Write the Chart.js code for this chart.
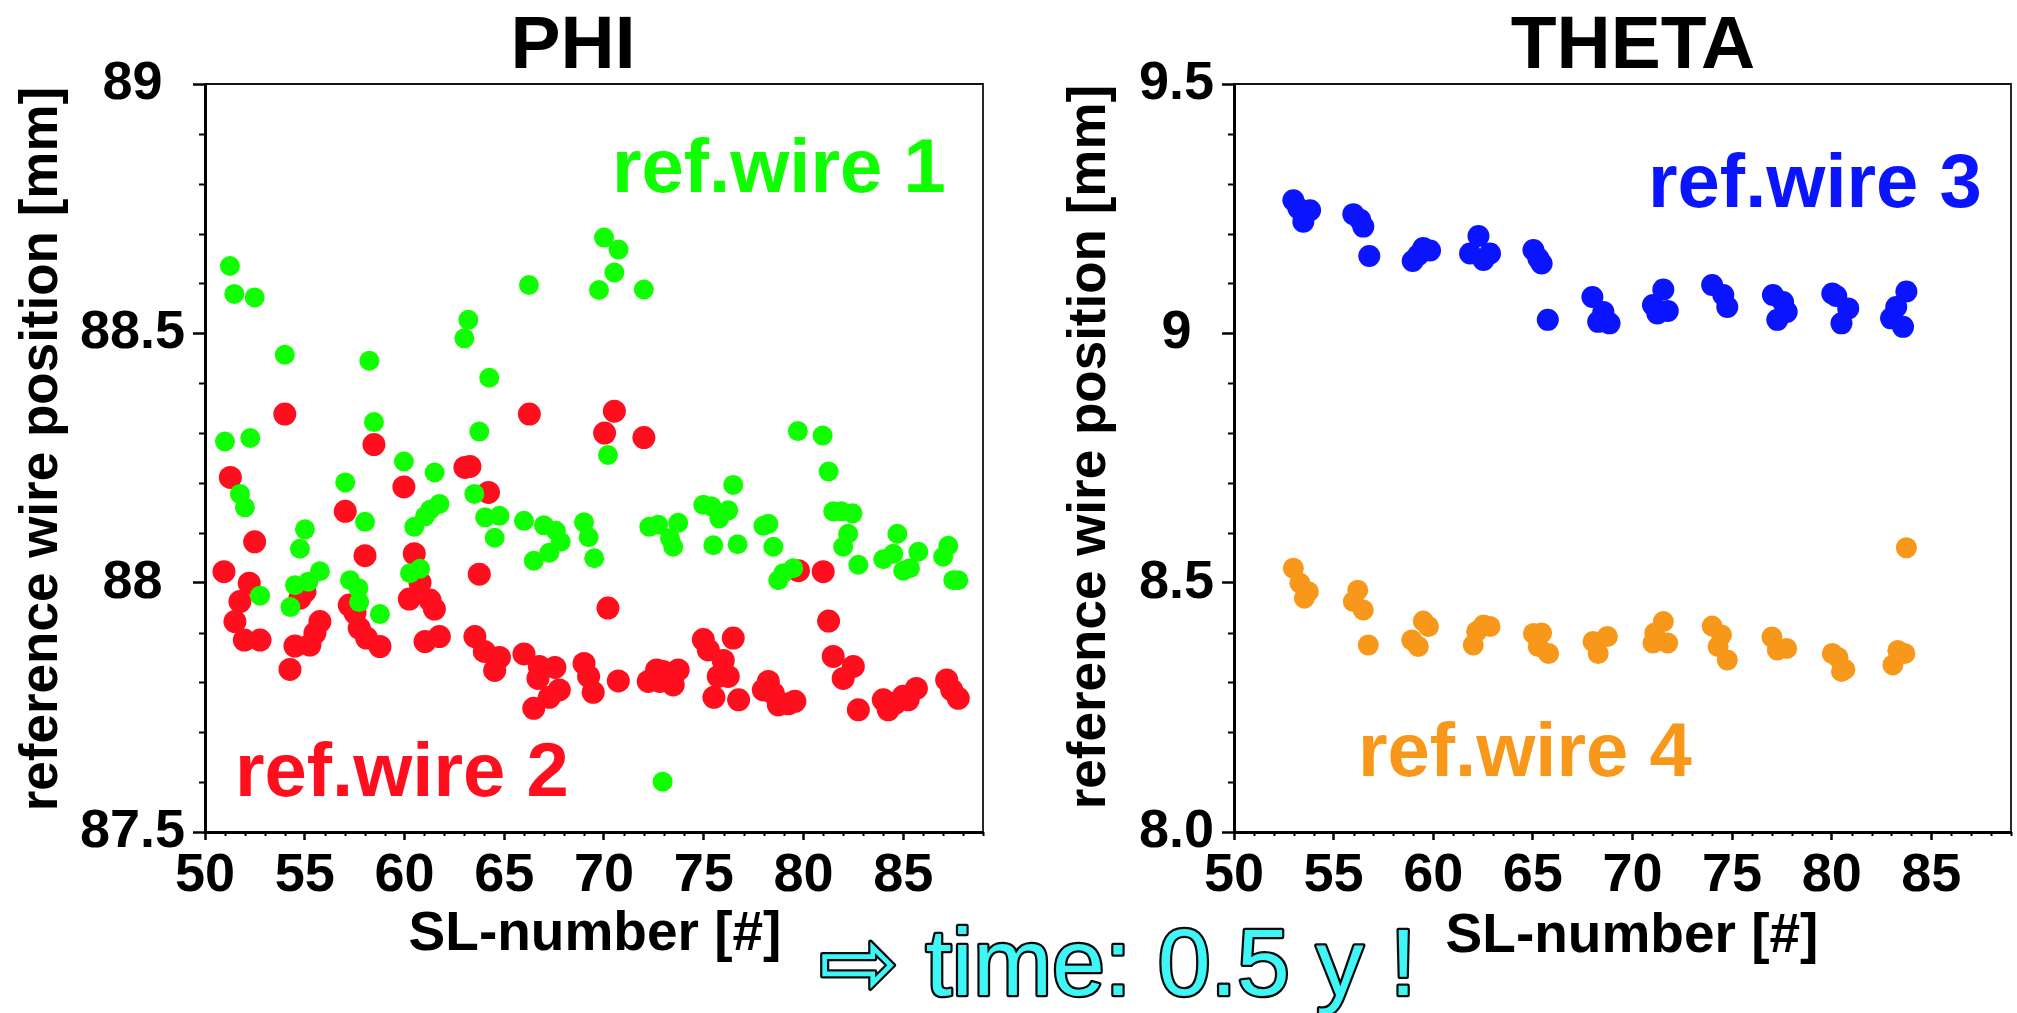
<!DOCTYPE html>
<html><head><meta charset="utf-8">
<script src="https://cdn.jsdelivr.net/npm/chart.js@4.4.1/dist/chart.umd.min.js"></script>
<style>
html,body{margin:0;padding:0;background:#fff;width:2017px;height:1013px;overflow:hidden}
canvas{position:absolute;left:0;top:0}
</style></head><body>
<canvas id="phi" width="2017" height="1013" style="width:2017px;height:1013px"></canvas>
<canvas id="theta" width="2017" height="1013" style="width:2017px;height:1013px"></canvas>
<script>
// ---------------- DATA ----------------
const xTickValues = [50, 55, 60, 65, 70, 75, 80, 85];
const xTickLabels = ['50', '55', '60', '65', '70', '75', '80', '85'];
const phiYTickValues = [87.5, 88, 88.5, 89];
const phiYTickLabels = ['87.5', '88', '88.5', '89'];
const thetaYTickValues = [8.0, 8.5, 9.0, 9.5];
const thetaYTickLabels = ['8.0', '8.5', '9', '9.5'];

const seriesNames = ['ref.wire 1', 'ref.wire 2', 'ref.wire 3', 'ref.wire 4'];
const chartTitles = ['PHI', 'THETA'];
const xAxisTitle = 'SL-number [#]';
const yAxisTitle = 'reference wire position [mm]';
const noteText = '\u21E8 time: 0.5 y !';

// PHI, ref.wire 1 (green)
const wire1X = [51.25,51.47,52.49,54.0,58.24,63.0,63.2,64.25,66.24,70.0,70.73,70.52,69.75,72.0,58.47,63.75,51.0,52.27,79.72,80.96,
  51.75,52.0,59.97,61.51,57.03,58.02,55.01,54.76,63.5,64.04,64.76,64.52,65.99,66.99,67.59,67.83,67.26,66.48,69.0,69.23,
  69.51,70.2,60.49,61.03,61.28,61.75,60.28,60.78,54.51,54.28,55.18,55.76,52.76,57.27,57.69,57.73,58.77,81.26,76.48,74.98,
  75.39,76.23,75.78,75.48,76.7,72.27,72.72,73.72,73.31,73.47,77.99,78.24,78.49,78.74,78.99,79.49,81.49,81.9,82.46,82.24,
  81.99,82.75,84.71,84.0,84.5,85.0,85.34,85.76,87.26,87.0,87.51,87.76,72.94];
const wire1Y = [88.635,88.579,88.572,88.457,88.445,88.49,88.527,88.411,88.597,88.692,88.668,88.622,88.587,88.588,88.322,88.303,88.283,88.29,88.304,88.295,
  88.178,88.151,88.243,88.221,88.201,88.122,88.107,88.068,88.178,88.131,88.134,88.09,88.124,88.115,88.104,88.082,88.06,88.044,88.121,88.091,
  88.049,88.256,88.112,88.133,88.146,88.158,88.019,88.028,87.995,87.951,88.002,88.023,87.974,88.005,87.989,87.961,87.937,88.223,88.196,88.156,
  88.153,88.145,88.129,88.075,88.077,88.112,88.116,88.12,88.089,88.072,88.114,88.118,88.072,88.005,88.019,88.029,88.143,88.143,88.139,88.098,
  88.072,88.036,88.098,88.047,88.058,88.024,88.029,88.062,88.074,88.052,88.005,88.005,87.601];

// PHI, ref.wire 2 (red)
const wire2X = [54.0,66.26,70.52,70.03,72.0,58.47,51.27,59.97,63.03,63.28,64.21,57.03,52.49,58.02,60.49,63.75,50.95,52.22,51.75,51.5,
  51.97,52.76,54.76,55.01,54.26,54.51,55.26,55.51,55.76,57.23,57.52,57.73,58.1,58.77,60.24,60.78,61.28,61.5,61.03,61.75,
  63.53,64.0,64.76,64.52,65.99,66.76,67.54,66.69,67.76,67.26,66.48,69.0,69.23,69.46,70.72,70.2,81.26,80.99,79.75,74.98,
  76.48,75.23,75.98,76.23,75.51,76.75,75.73,72.22,72.64,72.97,73.47,73.72,72.8,78.24,77.99,78.74,79.24,79.57,78.49,81.49,
  82.5,81.99,82.75,84.0,84.25,84.6,85.0,85.25,85.66,87.18,87.76,87.43];
const wire2Y = [88.338,88.338,88.344,88.3,88.291,88.277,88.211,88.192,88.231,88.233,88.181,88.143,88.082,88.054,88.058,88.017,88.022,87.999,87.962,87.922,
  87.885,87.885,87.969,87.982,87.826,87.873,87.875,87.899,87.922,87.955,87.939,87.909,87.889,87.872,87.967,88.0,87.965,87.947,87.882,87.892,
  87.892,87.862,87.85,87.824,87.857,87.832,87.83,87.808,87.785,87.77,87.748,87.838,87.812,87.78,87.803,87.949,87.923,88.022,88.024,87.886,
  87.889,87.865,87.844,87.812,87.77,87.765,87.812,87.802,87.825,87.822,87.795,87.825,87.802,87.802,87.785,87.755,87.757,87.762,87.778,87.852,
  87.832,87.808,87.745,87.765,87.745,87.758,87.772,87.765,87.788,87.805,87.768,87.785];

// THETA, ref.wire 3 (blue)
const wire3X = [52.98,53.23,53.82,53.48,55.99,56.33,56.49,56.79,58.97,59.25,59.5,59.84,62.27,61.85,62.52,62.85,65.03,65.28,65.44,65.75,
  67.99,68.54,68.28,68.85,71.55,71.03,71.77,71.25,74.0,74.56,74.76,77.05,77.56,77.74,77.27,80.03,80.23,80.83,80.49,83.75,
  83.24,82.98,83.58];
const wire3Y = [9.267,9.251,9.247,9.224,9.239,9.228,9.214,9.155,9.145,9.157,9.171,9.166,9.195,9.16,9.147,9.16,9.167,9.15,9.14,9.027,
  9.073,9.043,9.023,9.02,9.088,9.057,9.045,9.04,9.097,9.077,9.053,9.077,9.063,9.043,9.027,9.08,9.075,9.05,9.02,9.084,
  9.053,9.03,9.013];

// THETA, ref.wire 4 (orange)
const wire4X = [52.98,53.31,53.73,53.53,56.21,55.99,56.49,56.74,58.92,59.25,59.5,59.76,62.01,62.18,62.52,62.85,65.03,65.44,65.27,65.79,
  68.02,68.74,68.28,71.55,71.12,71.03,71.77,74.0,74.47,74.3,74.76,77.0,77.74,77.27,80.03,80.32,80.66,80.49,83.32,83.67,
  83.07,83.75];
const wire4Y = [8.529,8.499,8.482,8.469,8.485,8.462,8.445,8.375,8.385,8.372,8.423,8.412,8.375,8.402,8.415,8.412,8.398,8.399,8.372,8.358,
  8.382,8.392,8.358,8.422,8.399,8.379,8.379,8.413,8.395,8.372,8.345,8.391,8.368,8.365,8.358,8.35,8.326,8.322,8.364,8.358,
  8.335,8.57];

// ---------------- STYLE ----------------
const FONT = 'Liberation Sans, Arial, Helvetica, sans-serif';
const C_GREEN = '#10ff00', C_RED = '#ff0e1e', C_BLUE = '#0a14ff', C_ORANGE = '#f7981a';

const toPts = (xs, ys) => xs.map((x, i) => ({x, y: ys[i]}));

const decor = {
  id: 'decor',
  afterDraw(chart, args, o) {
    const ctx = chart.ctx, a = chart.chartArea, xs = chart.scales.x, ys = chart.scales.y;
    ctx.save();
    // frame (top + right)
    ctx.strokeStyle = '#111'; ctx.lineWidth = 1.8;
    ctx.beginPath(); ctx.moveTo(a.left, a.top); ctx.lineTo(a.right, a.top); ctx.lineTo(a.right, a.bottom); ctx.stroke();
    // minor ticks
    ctx.strokeStyle = '#000'; ctx.lineWidth = 2;
    ctx.beginPath();
    for (let k = 0; ; k++) {
      const v = xs.min + k * o.xMinorStep;
      if (v > xs.max + 1e-9) break;
      if (xTickValues.some(t => Math.abs(t - v) < 1e-6)) continue;
      const px = Math.round(xs.getPixelForValue(v)) + 0.5;
      ctx.moveTo(px, a.bottom); ctx.lineTo(px, a.bottom + o.xMinorLen);
    }
    for (let k = 0; ; k++) {
      const v = ys.min + k * o.yMinorStep;
      if (v > ys.max + 1e-9) break;
      if (o.yMajor.some(t => Math.abs(t - v) < 1e-6)) continue;
      const py = Math.round(ys.getPixelForValue(v)) + 0.5;
      ctx.moveTo(a.left, py); ctx.lineTo(a.left - o.yMinorLen, py);
    }
    ctx.stroke();
    // title
    ctx.fillStyle = '#000';
    ctx.font = 'bold 75px ' + FONT;
    ctx.textAlign = 'center'; ctx.textBaseline = 'alphabetic';
    ctx.fillText(o.title, o.titleX, o.titleY);
    // x axis title
    ctx.font = 'bold 55px ' + FONT;
    ctx.fillText(xAxisTitle, o.xTitleX, o.xTitleY);
    // y axis title
    ctx.save();
    ctx.translate(o.yTitleX, o.yTitleY);
    ctx.rotate(-Math.PI / 2);
    ctx.font = 'bold 53px ' + FONT;
    ctx.fillText(yAxisTitle, 0, 0);
    ctx.restore();
    // series labels (anchored in data coordinates)
    ctx.font = 'bold 76px ' + FONT;
    ctx.textAlign = 'left';
    o.labels.forEach(l => {
      ctx.fillStyle = l.color;
      ctx.fillText(l.text, xs.getPixelForValue(l.x), ys.getPixelForValue(l.y));
    });
    // note
    if (o.note) {
      ctx.font = '95px ' + FONT;
      ctx.textAlign = 'left';
      ctx.lineJoin = 'round';
      ctx.strokeStyle = '#0a0a0a'; ctx.lineWidth = 4.5;
      ctx.strokeText(noteText, o.noteX, o.noteY);
      ctx.fillStyle = '#3ff6f6';
      ctx.fillText(noteText, o.noteX, o.noteY);
    }
    ctx.restore();
  }
};

function makeChart(id, cfg) {
  return new Chart(document.getElementById(id), {
    type: 'scatter',
    data: {
      datasets: cfg.series.map(s => ({
        label: s.label, data: s.data, showLine: false,
        backgroundColor: s.color, borderColor: s.color, borderWidth: 0,
        pointRadius: s.r, pointHoverRadius: s.r
      }))
    },
    options: {
      responsive: false, animation: false, devicePixelRatio: 1, events: [],
      layout: { autoPadding: false, padding: cfg.padding },
      plugins: { legend: { display: false }, tooltip: { enabled: false }, title: { display: false }, decor: cfg.decor },
      scales: {
        x: {
          type: 'linear', position: 'bottom', min: 50, max: 89,
          afterBuildTicks: s => { s.ticks = xTickValues.map(v => ({value: v})); },
          afterFit: s => { s.height = cfg.xHeight; },
          ticks: {
            autoSkip: false, maxRotation: 0, minRotation: 0, padding: 4, color: '#000',
            font: { family: FONT, weight: 'bold', size: 54 },
            callback: v => xTickLabels[xTickValues.indexOf(v)]
          },
          grid: { drawOnChartArea: false, drawTicks: true, tickLength: 8, tickWidth: 2.5, tickColor: '#000' },
          border: { display: true, color: '#000', width: 3 }
        },
        y: {
          type: 'linear', position: 'left', min: cfg.yMin, max: cfg.yMax,
          afterBuildTicks: s => { s.ticks = cfg.yTickValues.map(v => ({value: v})); },
          afterFit: s => { s.width = cfg.yWidth; },
          ticks: {
            autoSkip: false, padding: 8, color: '#000', crossAlign: 'center',
            font: { family: FONT, weight: 'bold', size: 54 },
            callback: v => cfg.yTickLabels[cfg.yTickValues.indexOf(v)]
          },
          grid: { drawOnChartArea: false, drawTicks: true, tickLength: 12, tickWidth: 2.5, tickColor: '#000' },
          border: { display: true, color: '#000', width: 3 }
        }
      }
    },
    plugins: [decor]
  });
}

makeChart('phi', {
  padding: { left: 0, right: 2017 - 983, top: 84, bottom: 0 },
  xHeight: 181, yWidth: 205,
  yMin: 87.5, yMax: 89, yTickValues: phiYTickValues, yTickLabels: phiYTickLabels,
  series: [
    { label: seriesNames[0], data: toPts(wire1X, wire1Y), color: C_GREEN, r: 10 },
    { label: seriesNames[1], data: toPts(wire2X, wire2Y), color: C_RED, r: 11.5 }
  ],
  decor: {
    title: chartTitles[0], titleX: 573, titleY: 68,
    xTitleX: 595, xTitleY: 950, yTitleX: 57, yTitleY: 449,
    xMinorStep: 1, xMinorLen: 4, yMinorStep: 0.1, yMinorLen: 6, yMajor: phiYTickValues,
    labels: [
      { text: seriesNames[0], color: C_GREEN, x: 70.4, y: 88.783 },
      { text: seriesNames[1], color: C_RED, x: 51.5, y: 87.572 }
    ],
    note: false
  }
});

makeChart('theta', {
  padding: { left: 1010, right: 2017 - 2011, top: 84, bottom: 0 },
  xHeight: 181, yWidth: 224,
  yMin: 8.0, yMax: 9.5, yTickValues: thetaYTickValues, yTickLabels: thetaYTickLabels,
  series: [
    { label: seriesNames[2], data: toPts(wire3X, wire3Y), color: C_BLUE, r: 11 },
    { label: seriesNames[3], data: toPts(wire4X, wire4Y), color: C_ORANGE, r: 10.5 }
  ],
  decor: {
    title: chartTitles[1], titleX: 1633, titleY: 68,
    xTitleX: 1632, xTitleY: 952, yTitleX: 1105, yTitleY: 447,
    xMinorStep: 1, xMinorLen: 4, yMinorStep: 0.1, yMinorLen: 6, yMajor: thetaYTickValues,
    labels: [
      { text: seriesNames[2], color: C_BLUE, x: 70.78, y: 9.253 },
      { text: seriesNames[3], color: C_ORANGE, x: 56.22, y: 8.112 }
    ],
    note: true, noteX: 819, noteY: 995
  }
});
</script></body></html>
